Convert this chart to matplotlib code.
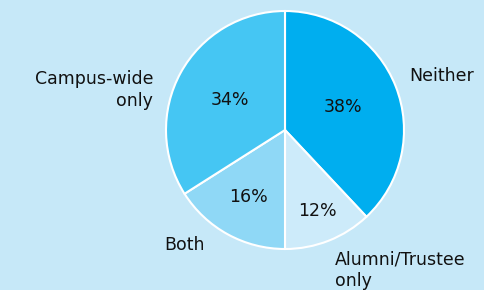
import matplotlib
matplotlib.use("Agg")
import matplotlib.pyplot as plt
import numpy as np

categories = ["Neither", "Alumni/Trustee only", "Both", "Campus-wide only"]
values = [38, 12, 16, 34]
pct_labels = ["38%", "12%", "16%", "34%"]
colors = ["#00aeef", "#cdebfa", "#8fd8f6", "#45c6f3"]
pct_dist = [0.52, 0.73, 0.64, 0.53]

BG = "#c6e8f8"
plt.rcParams["font.family"] = ["DejaVu Sans"]

fig = plt.figure(figsize=(4.84, 2.90), dpi=100, facecolor=BG)
ax = fig.add_axes([0, 0, 1, 1])
ax.set_facecolor(BG)
wedges, _ = ax.pie(values, startangle=90, counterclock=False, colors=colors,
                   center=(285, 160), radius=119,
                   wedgeprops=dict(edgecolor="white", linewidth=1.5))
for w, lab, d in zip(wedges, pct_labels, pct_dist):
    ang = np.deg2rad((w.theta1 + w.theta2) / 2)
    x = 285 + d * 119 * np.cos(ang)
    y = 160 + d * 119 * np.sin(ang)
    ax.text(x, y, lab, ha="center", va="center", fontsize=12.5, color="#111111")

fs = 12.5
ax.text(409, 214, "Neither", ha="left", va="center", fontsize=fs, color="#111111")
ax.text(153, 200, "Campus-wide\nonly", ha="right", va="center", fontsize=fs,
        color="#111111", linespacing=1.25)
ax.text(164, 45, "Both", ha="left", va="center", fontsize=fs, color="#111111")
ax.text(335, 20, "Alumni/Trustee\nonly", ha="left", va="center", fontsize=fs,
        color="#111111", linespacing=1.25)

ax.set_xlim(0, 484)
ax.set_ylim(0, 290)
ax.set_aspect("equal")
ax.axis("off")
fig.savefig("out.png", dpi=100, facecolor=BG)
